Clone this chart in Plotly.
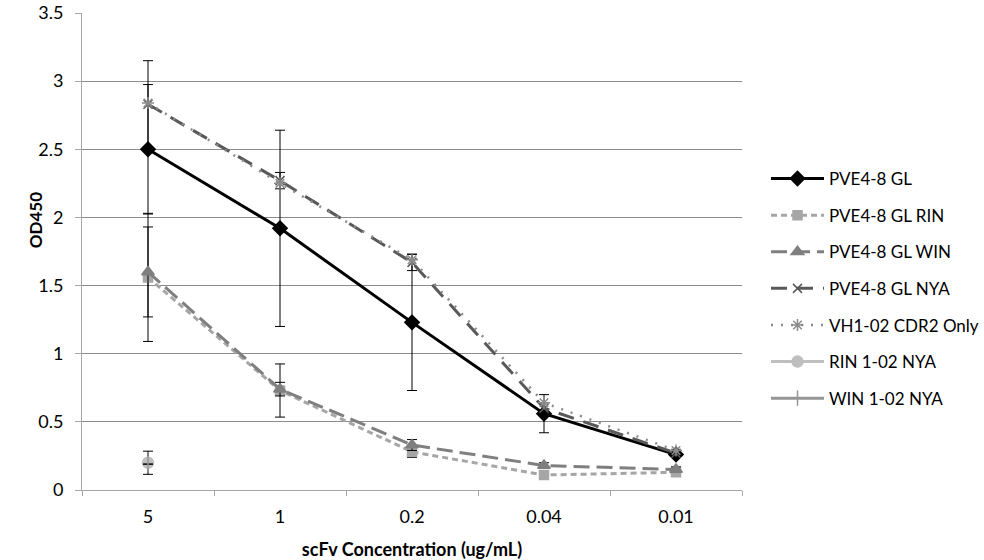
import plotly.graph_objects as go

categories = ["5", "1", "0.2", "0.04", "0.01"]

gl = [2.50, 1.92, 1.23, 0.56, 0.26]
gl_err = [0.475, 0.72, 0.50, 0.14, 0.02]

gl_rin = [1.56, 0.73, 0.28, 0.11, 0.13]
gl_rin_err = [0.47, 0.195, 0.04, 0.02, 0.02]

gl_win = [1.60, 0.74, 0.33, 0.18, 0.15]
gl_win_err = [0.33, 0.05, 0.04, 0.02, 0.02]

gl_nya = [2.83, 2.27, 1.67, 0.60, 0.27]
gl_nya_err = [0.32, 0.06, 0.06, 0.04, 0.02]

vh1_cdr2 = [2.84, 2.25, 1.69, 0.64, 0.29]

rin_102 = [0.20, None, None, None, None]
rin_102_err = [0.085, 0, 0, 0, 0]

win_102 = [0.19, None, None, None, None]
win_102_err = [0.0, 0, 0, 0, 0]

series = [
    dict(name="PVE4-8 GL", y=gl, err=gl_err, color="#000000", dash="solid",
         symbol="diamond", msize=11, width=3),
    dict(name="PVE4-8 GL RIN", y=gl_rin, err=gl_rin_err, color="#A6A6A6", dash="6px,4px",
         symbol="square", msize=9, width=3),
    dict(name="PVE4-8 GL WIN", y=gl_win, err=gl_win_err, color="#7F7F7F", dash="16px,7px",
         symbol="triangle-up", msize=11, width=3),
    dict(name="PVE4-8 GL NYA", y=gl_nya, err=gl_nya_err, color="#595959", dash="16px,10px",
         symbol="x-thin-open", msize=9, width=3),
    dict(name="VH1-02 CDR2 Only", y=vh1_cdr2, err=None, color="#8C8C8C", dash="2px,8px",
         symbol="asterisk-open", msize=10, width=2.5),
    dict(name="RIN 1-02 NYA", y=rin_102, err=rin_102_err, color="#BFBFBF", dash="solid",
         symbol="circle", msize=11, width=3),
    dict(name="WIN 1-02 NYA", y=win_102, err=win_102_err, color="#969696", dash="solid",
         symbol="line-ns-open", msize=11, width=3),
]

fig = go.Figure()
for i, s in enumerate(series):
    err = None
    if s["err"] is not None:
        err = dict(type="data", array=s["err"], visible=True, color="#000000",
                   thickness=1, width=5)
    fig.add_trace(go.Scatter(
        x=categories, y=s["y"], name=s["name"], mode="lines+markers",
        line=dict(color=s["color"], dash=s["dash"], width=s["width"]),
        marker=dict(symbol=s["symbol"], size=s["msize"], color=s["color"],
                    line=dict(color=s["color"], width=1.5)),
        error_y=err, legendgroup=f"g{i}",
    ))

font_family = "Lato, 'Open Sans', sans-serif"

fig.update_layout(
    width=984, height=560,
    margin=dict(l=82, r=242, t=13, b=70, autoexpand=False),
    paper_bgcolor="white", plot_bgcolor="white",
    font=dict(family=font_family, size=17, color="#000000"),
    showlegend=True,
    legend=dict(x=(766 - 82) / 660, y=1 - (161 - 13) / 477, xanchor="left", yanchor="top",
                font=dict(size=17, color="#000000"),
                tracegroupgap=11.5, itemwidth=53,
                bgcolor="rgba(0,0,0,0)"),
    xaxis=dict(
        type="category", range=[-0.5, 4.5], showgrid=False, showline=True,
        linecolor="#A6A6A6", linewidth=1, ticks="outside", tickson="boundaries",
        ticklen=5, tickcolor="#A6A6A6", automargin=False, ticklabelstandoff=10,
        tickfont=dict(size=18),
        title=dict(text="<b>scFv Concentration (ug/mL)</b>", standoff=17,
                   font=dict(size=18)),
    ),
    yaxis=dict(
        range=[0, 3.5], dtick=0.5, showgrid=True, gridcolor="#8C8C8C", gridwidth=1,
        showline=True, linecolor="#A6A6A6", linewidth=1, ticks="outside",
        ticklen=6, tickcolor="#A6A6A6", zeroline=False, automargin=False,
        ticklabelstandoff=8, tickfont=dict(size=18), ticklabeloverflow="allow",
    ),
    annotations=[dict(
        text="<b>OD450</b>", textangle=-90, xref="paper", yref="y",
        x=(35 - 82) / 660, y=1.98, xanchor="center", yanchor="middle",
        showarrow=False, font=dict(size=17, color="#000000"),
    )],
)

fig.write_html("out.html", config={"displayModeBar": False},
               post_script="document.body.style.margin='0';")
